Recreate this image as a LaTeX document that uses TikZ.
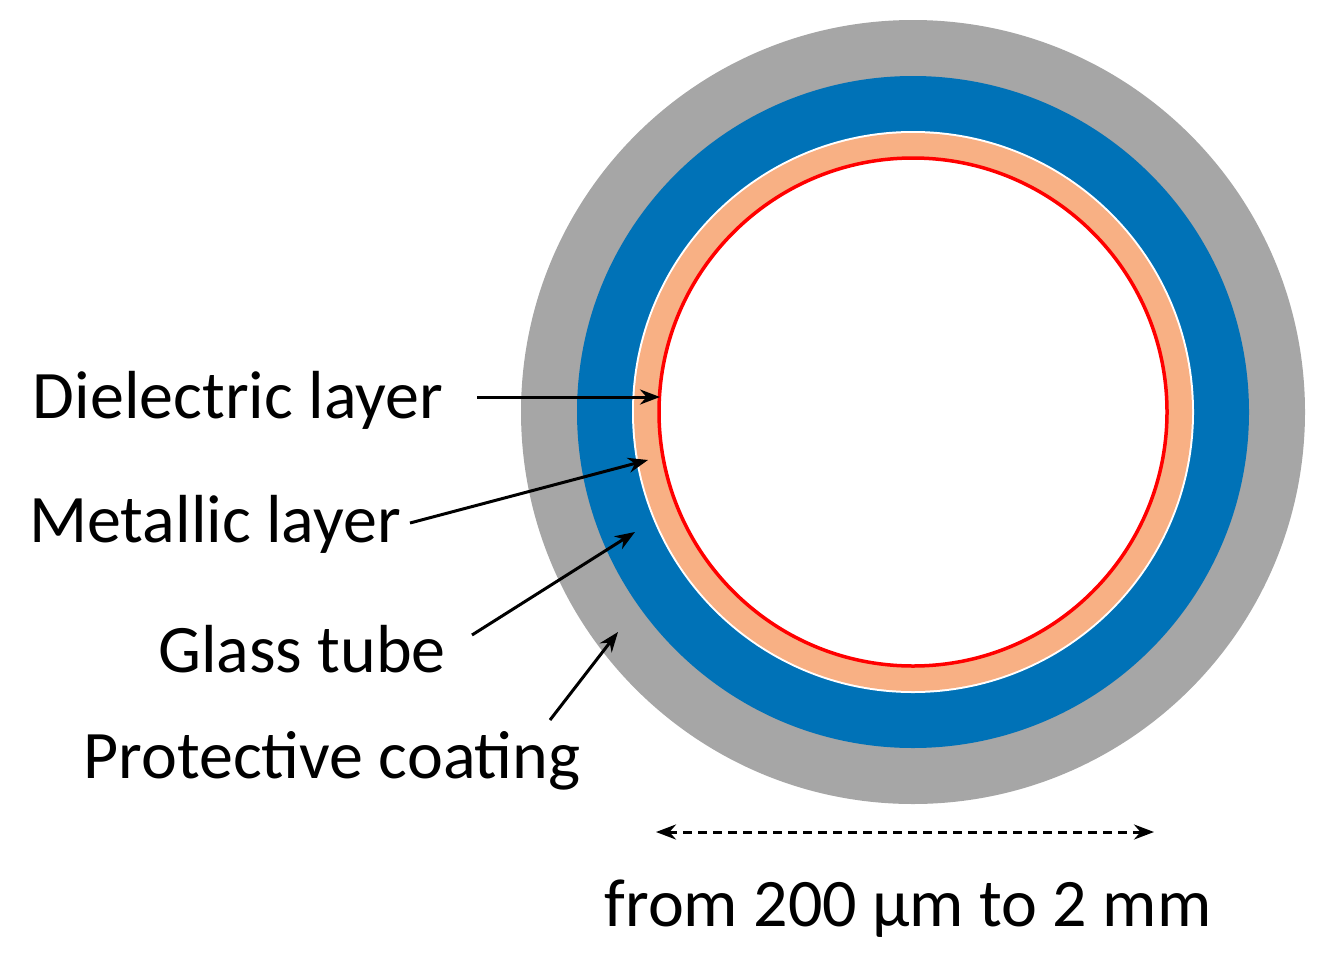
\documentclass[tikz,border=0pt]{standalone}
\usepackage{fontspec}
\setmainfont{Carlito}
\usetikzlibrary{arrows.meta}
\definecolor{gr}{RGB}{166,166,166}
\definecolor{bl}{RGB}{0,114,183}
\definecolor{pe}{RGB}{248,176,132}
\tikzset{lbl/.style={font=\fontsize{68}{74}\selectfont,inner sep=0pt},
 arr/.style={line width=3pt,-{Stealth[length=20pt,width=15pt]}}}
\begin{document}
\begin{tikzpicture}[x=1pt,y=-1pt]
\useasboundingbox (0,0) rectangle (1327,964);
\coordinate (c) at (913,412);
\fill[gr] (c) circle (392);
\fill[bl] (c) circle (336);
\fill[white] (c) circle (281);
\fill[pe] (c) circle (279);
\draw[red,line width=3.5pt,fill=white] (c) circle (254);
\node[lbl,anchor=base] (d) at (238,418) {Dielectric layer};
\node[lbl,anchor=base] (m) at (215,542) {Metallic layer};
\node[lbl,anchor=base] (g) at (302,672) {Glass tube};
\node[lbl,anchor=base] (p) at (332,778) {Protective coating};
\node[lbl,anchor=base] (s) at (908,926) {from 200 µm to 2 mm};
\coordinate (d1) at (477,397); \coordinate (d2) at (660,397);
\coordinate (m1) at (410,523); \coordinate (m2) at (648,460);
\coordinate (g1) at (472,635); \coordinate (g2) at (635,532);
\coordinate (p1) at (550,720); \coordinate (p2) at (618,632);
\coordinate (a1) at (656,832); \coordinate (a2) at (1154,832);
\draw[arr] (d1) -- (d2);
\draw[arr] (m1) -- (m2);
\draw[arr] (g1) -- (g2);
\draw[arr] (p1) -- (p2);
\draw[line width=3pt,dash pattern=on 9pt off 6pt,{Stealth[length=20pt,width=15pt]}-{Stealth[length=20pt,width=15pt]}] (a1) -- (a2);
\end{tikzpicture}
\end{document}
